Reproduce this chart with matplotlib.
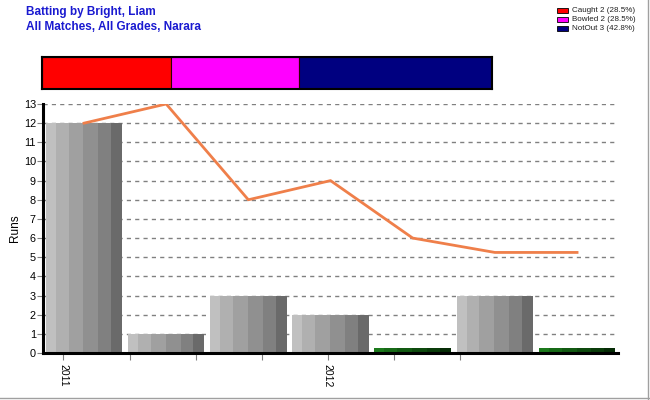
import numpy as np
import matplotlib.pyplot as plt
from matplotlib.lines import Line2D
from matplotlib.patches import Rectangle

plt.rcParams['font.family'] = ['Liberation Sans', 'DejaVu Sans']

# innings data
runs = [12, 1, 3, 2, 0, 3, 0]
average = [12, 13, 8, 9, 6, 5.25, 5.25]
duck_height = 0.25
year_labels = ['2011', '', '', '', '2012', '', '']

# dismissal summary
dismissals = ['Caught', 'Bowled', 'NotOut']
dismissal_counts = [2, 2, 3]
dismissal_pct = ['28.5%', '28.5%', '42.8%']
dismissal_colors = ['#ff0000', '#ff00ff', '#000080']

gray_stripes = ['#c0c0c0', '#b0b0b0', '#a0a0a0', '#909090', '#808080', '#6a6a6a']
green_stripes = ['#1c7a1c', '#176a17', '#125a12', '#0e4a0e', '#0a3c0a', '#062c06']
stripe_w = np.array([10, 13, 15, 15, 13, 11]) / 77.0

fig = plt.figure(figsize=(6.5, 4.0), dpi=100)
ax = fig.add_axes([0.066, 0.1175, 0.885, 0.6225])

x = np.arange(len(runs))
bar_w = 0.93
for xi, r in zip(x, runs):
    h = r if r > 0 else duck_height
    cols = gray_stripes if r > 0 else green_stripes
    left = xi - bar_w / 2
    for sw, c in zip(stripe_w, cols):
        ax.bar(left, h, sw * bar_w, align='edge', color=c, linewidth=0, zorder=2)
        left += sw * bar_w

ax.plot(x, average, color='#ef7f4a', lw=2, zorder=3)

ax.set_xlim(-0.5, len(runs) - 0.5)
ax.set_ylim(0, 13)
ax.set_yticks(range(0, 14))
ax.yaxis.grid(True, color='#808080', linestyle=(0, (3, 3)), lw=1)
ax.set_axisbelow(True)

tick_pos = -0.25 + 0.804 * np.arange(len(year_labels))
ax.set_xticks(tick_pos)
ax.set_xticklabels(year_labels, rotation=270, fontsize=7.5)
ax.tick_params(axis='x', length=5, color='#808080', pad=3)
ax.tick_params(axis='y', length=4, color='#808080', labelsize=7.8, pad=1)
for s in ['top', 'right']:
    ax.spines[s].set_visible(False)
ax.spines['left'].set_linewidth(2.2)
ax.spines['bottom'].set_linewidth(2.2)
ax.set_ylabel('Runs', fontsize=8.5, labelpad=2)

# dismissal bar
bx = fig.add_axes([0.0646, 0.7775, 0.692, 0.08])
left = 0
for n, c in zip(dismissal_counts, dismissal_colors):
    bx.barh(0, n, left=left, height=1, color=c, edgecolor='#300000', lw=0.8)
    left += n
bx.set_xlim(0, sum(dismissal_counts))
bx.set_ylim(-0.5, 0.5)
bx.set_xticks([])
bx.set_yticks([])
for s in bx.spines.values():
    s.set_linewidth(1.5)

# legend
for i, (d, n, p, c) in enumerate(zip(dismissals, dismissal_counts, dismissal_pct, dismissal_colors)):
    y = 1 - (10.5 + 9 * i) / 400
    fig.patches.append(Rectangle((557 / 650, y - 2.5 / 400), 11 / 650, 5 / 400,
                                 transform=fig.transFigure, facecolor=c,
                                 edgecolor='black', lw=0.6))
    fig.text(572 / 650, y, f'{d} {n} ({p})', fontsize=5.8, va='center', ha='left',
             color='#202020')

fig.text(26 / 650, 1 - 12 / 400, 'Batting by Bright, Liam', fontsize=8.5, weight='bold',
         color='#1a1ad0', va='center')
fig.text(26 / 650, 1 - 27 / 400, 'All Matches, All Grades, Narara', fontsize=8.5, weight='bold',
         color='#1a1ad0', va='center')

# frame edges
fig.lines.append(Line2D([0.997, 0.997], [0, 1], transform=fig.transFigure, color='#a0a0a0', lw=1))
fig.lines.append(Line2D([0, 1], [0.004, 0.004], transform=fig.transFigure, color='#a0a0a0', lw=1))

fig.savefig('out.png', dpi=100)
